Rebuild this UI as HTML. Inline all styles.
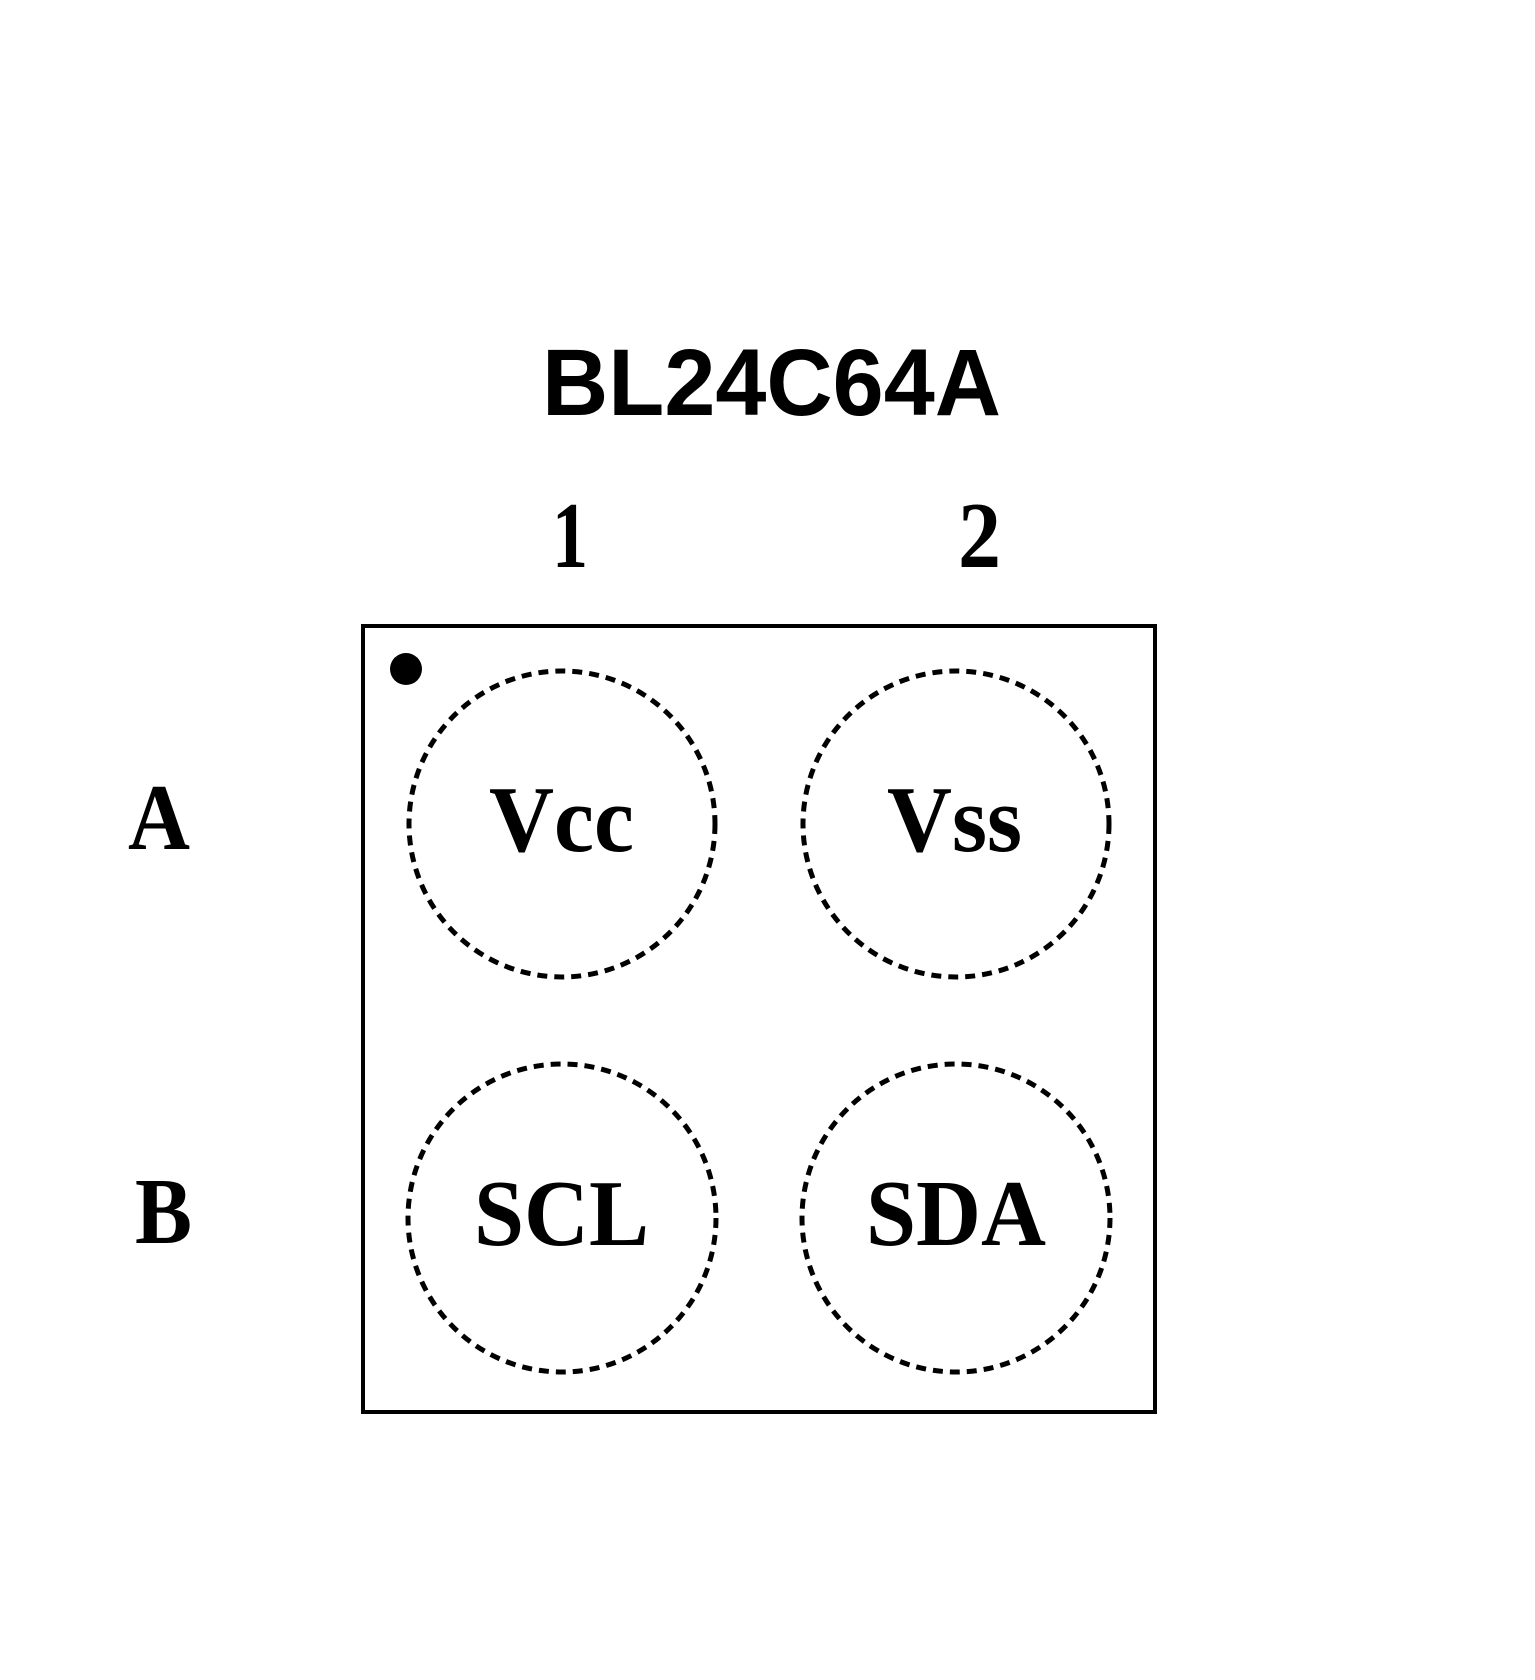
<!DOCTYPE html>
<html><head><style>html,body{margin:0;padding:0;background:#fff}</style></head><body>
<svg width="1535" height="1675" viewBox="0 0 1535 1675" xmlns="http://www.w3.org/2000/svg">
<rect x="0" y="0" width="1535" height="1675" fill="#fff"/>
<text x="542" y="415" font-family="Liberation Sans, sans-serif" font-weight="bold" font-size="95" textLength="459" lengthAdjust="spacingAndGlyphs">BL24C64A</text>
<g font-family="Liberation Serif, serif" font-weight="bold" font-size="94">
<text x="552" y="567" textLength="36" lengthAdjust="spacingAndGlyphs">1</text>
<text x="958" y="567" textLength="43" lengthAdjust="spacingAndGlyphs">2</text>
<text x="128" y="849" textLength="62" lengthAdjust="spacingAndGlyphs">A</text>
<text x="135" y="1243" textLength="57" lengthAdjust="spacingAndGlyphs">B</text>
<text x="489" y="851" textLength="145" lengthAdjust="spacingAndGlyphs">Vcc</text>
<text x="887" y="851" textLength="135" lengthAdjust="spacingAndGlyphs">Vss</text>
<text x="474" y="1245" textLength="175" lengthAdjust="spacingAndGlyphs">SCL</text>
<text x="866" y="1245" textLength="180" lengthAdjust="spacingAndGlyphs">SDA</text>
</g>
<rect x="363" y="626" width="792" height="786" fill="none" stroke="#000" stroke-width="4"/>
<circle cx="406" cy="669" r="16" fill="#000"/>
<g fill="none" stroke="#000" stroke-width="5" stroke-dasharray="10 7">
<circle cx="562" cy="824" r="153"/>
<circle cx="956" cy="824" r="153"/>
<circle cx="562" cy="1218" r="154"/>
<circle cx="956" cy="1218" r="154"/>
</g>
</svg>
</body></html>
